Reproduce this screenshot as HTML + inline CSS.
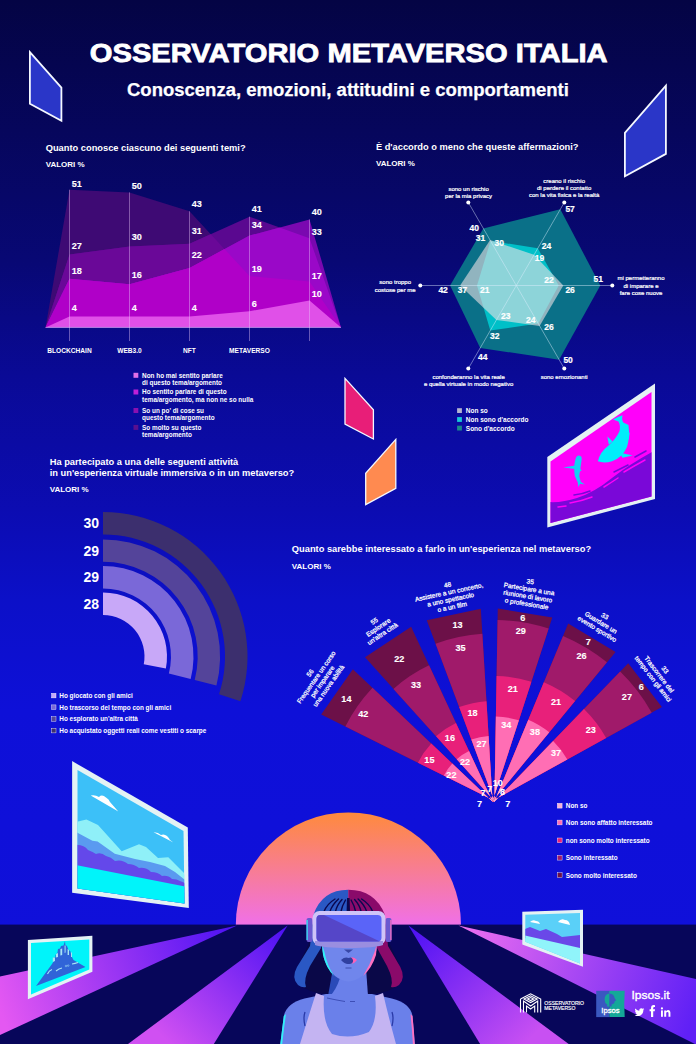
<!DOCTYPE html>
<html><head><meta charset="utf-8"><style>
html,body{margin:0;padding:0;background:#0a0a90;}
svg{display:block;font-family:'Liberation Sans',sans-serif;font-weight:bold;}
</style></head><body>
<svg width="696" height="1044" viewBox="0 0 696 1044">
<defs>
<linearGradient id="bg" x1="0" y1="0" x2="0" y2="1">
<stop offset="0" stop-color="#040444"/>
<stop offset="0.25" stop-color="#080874"/>
<stop offset="0.36" stop-color="#0a0a96"/>
<stop offset="0.49" stop-color="#0c0cb2"/>
<stop offset="0.575" stop-color="#0c10c8"/>
<stop offset="0.68" stop-color="#0e10d8"/>
<stop offset="0.9" stop-color="#1010da"/>
<stop offset="1" stop-color="#1010da"/>
</linearGradient>
<linearGradient id="sun" x1="0" y1="0" x2="0" y2="1">
<stop offset="0" stop-color="#ff8a3c"/>
<stop offset="1" stop-color="#f070e8"/>
</linearGradient>
</defs>
<rect x="0" y="0" width="696" height="1044" fill="url(#bg)"/>
<text x="89.80" y="62.00" font-size="26.4" fill="#fff" text-anchor="start" textLength="517.8" lengthAdjust="spacingAndGlyphs" stroke="#fff" stroke-width="0.8">OSSERVATORIO METAVERSO ITALIA</text>
<text x="127.00" y="96.00" font-size="18.3" fill="#fff" text-anchor="start" textLength="441.8" lengthAdjust="spacingAndGlyphs" stroke="#fff" stroke-width="0.25">Conoscenza, emozioni, attitudini e comportamenti</text>
<polygon points="29.9,52.2 61.4,87.6 61.4,120.8 29.9,103.8" fill="#2a36c8" stroke="#f4f8ff" stroke-width="1.8" stroke-linejoin="miter"/>
<polygon points="665.9,85.7 665.9,153.9 624.9,176.2 624.9,132.8" fill="#2a36c8" stroke="#f4f8ff" stroke-width="1.8" stroke-linejoin="miter"/>
<polygon points="345.0,378.4 373.4,409.8 373.4,439.0 345.0,424.0" fill="#e81e78" stroke="#f4f8ff" stroke-width="1.3" stroke-linejoin="miter"/>
<polygon points="395.8,439.4 395.8,488.4 365.7,504.6 365.7,473.2" fill="#ff8a50" stroke="#f4f8ff" stroke-width="1.3" stroke-linejoin="miter"/>
<text x="45.70" y="151.40" font-size="9.3" fill="#fff" text-anchor="start" >Quanto conosce ciascuno dei seguenti temi?</text>
<text x="45.70" y="166.60" font-size="8.0" fill="#fff" text-anchor="start" >VALORI %</text>
<defs><clipPath id="cS4"><polygon points="45.5,327.4 69.5,189.7 129.5,192.4 189.5,211.3 249.5,276.1 309.5,281.5 341.0,327.4"/></clipPath><clipPath id="cS3"><polygon points="45.5,327.4 69.5,254.5 129.5,246.4 189.5,243.7 249.5,216.7 309.5,238.3 341.0,327.4"/></clipPath></defs>
<polygon points="45.5,327.4 69.5,189.7 129.5,192.4 189.5,211.3 249.5,276.1 309.5,281.5 341.0,327.4" fill="#3e0a74"/>
<polygon points="45.5,327.4 69.5,254.5 129.5,246.4 189.5,243.7 249.5,216.7 309.5,238.3 341.0,327.4" fill="#5a0890"/>
<polygon points="45.5,327.4 69.5,254.5 129.5,246.4 189.5,243.7 249.5,216.7 309.5,238.3 341.0,327.4" fill="#6a0898" clip-path="url(#cS4)"/>
<polygon points="45.5,327.4 69.5,278.8 129.5,284.2 189.5,268.0 249.5,235.6 309.5,219.4 341.0,327.4" fill="#7a08b0"/>
<polygon points="45.5,327.4 69.5,278.8 129.5,284.2 189.5,268.0 249.5,235.6 309.5,219.4 341.0,327.4" fill="#9a08c8" clip-path="url(#cS3)"/>
<g clip-path="url(#cS4)"><polygon points="45.5,327.4 69.5,278.8 129.5,284.2 189.5,268.0 249.5,235.6 309.5,219.4 341.0,327.4" fill="#b000c8" clip-path="url(#cS3)"/></g>
<polygon points="45.5,327.4 69.5,316.6 129.5,316.6 189.5,316.6 249.5,311.2 309.5,300.4 341.0,327.4" fill="#e050e8"/>
<line x1="45.5" y1="327.4" x2="341" y2="327.4" stroke="#a898e8" stroke-width="0.8"/>
<line x1="69.5" y1="189.7" x2="69.5" y2="341" stroke="#e8c8f8" stroke-opacity="0.7" stroke-width="0.6"/>
<text x="71.70" y="186.60" font-size="9.1" fill="#fff" text-anchor="start" stroke="#fff" stroke-width="0.12">51</text>
<text x="71.70" y="249.40" font-size="9.1" fill="#fff" text-anchor="start" stroke="#fff" stroke-width="0.12">27</text>
<text x="71.70" y="274.00" font-size="9.1" fill="#fff" text-anchor="start" stroke="#fff" stroke-width="0.12">18</text>
<text x="71.70" y="310.90" font-size="9.1" fill="#fff" text-anchor="start" stroke="#fff" stroke-width="0.12">4</text>
<line x1="129.5" y1="192.4" x2="129.5" y2="341" stroke="#e8c8f8" stroke-opacity="0.7" stroke-width="0.6"/>
<text x="131.70" y="188.60" font-size="9.1" fill="#fff" text-anchor="start" stroke="#fff" stroke-width="0.12">50</text>
<text x="131.70" y="240.10" font-size="9.1" fill="#fff" text-anchor="start" stroke="#fff" stroke-width="0.12">30</text>
<text x="131.70" y="277.60" font-size="9.1" fill="#fff" text-anchor="start" stroke="#fff" stroke-width="0.12">16</text>
<text x="131.70" y="310.90" font-size="9.1" fill="#fff" text-anchor="start" stroke="#fff" stroke-width="0.12">4</text>
<line x1="189.5" y1="211.3" x2="189.5" y2="341" stroke="#e8c8f8" stroke-opacity="0.7" stroke-width="0.6"/>
<text x="191.70" y="207.20" font-size="9.1" fill="#fff" text-anchor="start" stroke="#fff" stroke-width="0.12">43</text>
<text x="191.70" y="233.60" font-size="9.1" fill="#fff" text-anchor="start" stroke="#fff" stroke-width="0.12">31</text>
<text x="191.70" y="257.90" font-size="9.1" fill="#fff" text-anchor="start" stroke="#fff" stroke-width="0.12">22</text>
<text x="191.70" y="311.40" font-size="9.1" fill="#fff" text-anchor="start" stroke="#fff" stroke-width="0.12">4</text>
<line x1="249.5" y1="216.7" x2="249.5" y2="341" stroke="#e8c8f8" stroke-opacity="0.7" stroke-width="0.6"/>
<text x="251.70" y="211.80" font-size="9.1" fill="#fff" text-anchor="start" stroke="#fff" stroke-width="0.12">41</text>
<text x="251.70" y="228.00" font-size="9.1" fill="#fff" text-anchor="start" stroke="#fff" stroke-width="0.12">34</text>
<text x="251.70" y="271.60" font-size="9.1" fill="#fff" text-anchor="start" stroke="#fff" stroke-width="0.12">19</text>
<text x="251.70" y="306.80" font-size="9.1" fill="#fff" text-anchor="start" stroke="#fff" stroke-width="0.12">6</text>
<line x1="309.5" y1="219.4" x2="309.5" y2="341" stroke="#e8c8f8" stroke-opacity="0.7" stroke-width="0.6"/>
<text x="311.70" y="214.90" font-size="9.1" fill="#fff" text-anchor="start" stroke="#fff" stroke-width="0.12">40</text>
<text x="311.70" y="234.90" font-size="9.1" fill="#fff" text-anchor="start" stroke="#fff" stroke-width="0.12">33</text>
<text x="311.70" y="278.70" font-size="9.1" fill="#fff" text-anchor="start" stroke="#fff" stroke-width="0.12">17</text>
<text x="311.70" y="297.40" font-size="9.1" fill="#fff" text-anchor="start" stroke="#fff" stroke-width="0.12">10</text>
<text x="69.50" y="353.00" font-size="6.6" fill="#fff" text-anchor="middle" >BLOCKCHAIN</text>
<text x="129.50" y="353.00" font-size="6.6" fill="#fff" text-anchor="middle" >WEB3.0</text>
<text x="189.50" y="353.00" font-size="6.6" fill="#fff" text-anchor="middle" >NFT</text>
<text x="249.50" y="353.00" font-size="6.6" fill="#fff" text-anchor="middle" >METAVERSO</text>
<rect x="133.5" y="372.8" width="4.8" height="5" fill="#e070e8"/>
<text x="142.10" y="377.60" font-size="6.4" fill="#fff" text-anchor="start" >Non ho mai sentito parlare</text>
<text x="142.10" y="384.80" font-size="6.4" fill="#fff" text-anchor="start" >di questo tema/argomento</text>
<rect x="133.5" y="389.5" width="4.8" height="5" fill="#c020d8"/>
<text x="142.10" y="394.30" font-size="6.4" fill="#fff" text-anchor="start" >Ho sentito parlare di questo</text>
<text x="142.10" y="401.50" font-size="6.4" fill="#fff" text-anchor="start" >tema/argomento, ma non ne so nulla</text>
<rect x="133.5" y="408.0" width="4.8" height="5" fill="#8a10b0"/>
<text x="142.10" y="412.80" font-size="6.4" fill="#fff" text-anchor="start" >So un po' di cose su</text>
<text x="142.10" y="420.00" font-size="6.4" fill="#fff" text-anchor="start" >questo tema/argomento</text>
<rect x="133.5" y="424.9" width="4.8" height="5" fill="#5a1090"/>
<text x="142.10" y="429.70" font-size="6.4" fill="#fff" text-anchor="start" >So molto su questo</text>
<text x="142.10" y="436.90" font-size="6.4" fill="#fff" text-anchor="start" >tema/argomento</text>
<text x="375.90" y="150.20" font-size="9.3" fill="#fff" text-anchor="start" >È d'accordo o meno che queste affermazioni?</text>
<text x="375.90" y="166.40" font-size="8.0" fill="#fff" text-anchor="start" >VALORI %</text>
<polygon points="483.3,228.4 560.3,209.2 600.3,285.5 559.1,359.7 480.2,348.0 450.1,285.5" fill="#0a7088"/>
<polygon points="490.5,240.9 537.8,248.2 558.7,285.5 538.3,323.6 490.3,330.5 477.0,285.5" fill="#00c0c8"/>
<polygon points="490.1,240.1 534.0,254.8 563.3,285.5 539.6,325.9 496.4,319.9 460.1,285.5" fill="rgb(235,225,228)" fill-opacity="0.6"/>
<line x1="516.3" y1="285.5" x2="468.3" y2="202.4" stroke="#e0f0ff" stroke-opacity="0.75" stroke-width="0.6"/>
<circle cx="468.3" cy="202.4" r="2" fill="#fff"/>
<line x1="516.3" y1="285.5" x2="564.3" y2="202.4" stroke="#e0f0ff" stroke-opacity="0.75" stroke-width="0.6"/>
<circle cx="564.3" cy="202.4" r="2" fill="#fff"/>
<line x1="516.3" y1="285.5" x2="612.3" y2="285.5" stroke="#e0f0ff" stroke-opacity="0.75" stroke-width="0.6"/>
<circle cx="612.3" cy="285.5" r="2" fill="#fff"/>
<line x1="516.3" y1="285.5" x2="564.3" y2="368.6" stroke="#e0f0ff" stroke-opacity="0.75" stroke-width="0.6"/>
<circle cx="564.3" cy="368.6" r="2" fill="#fff"/>
<line x1="516.3" y1="285.5" x2="468.3" y2="368.6" stroke="#e0f0ff" stroke-opacity="0.75" stroke-width="0.6"/>
<circle cx="468.3" cy="368.6" r="2" fill="#fff"/>
<line x1="516.3" y1="285.5" x2="420.3" y2="285.5" stroke="#e0f0ff" stroke-opacity="0.75" stroke-width="0.6"/>
<circle cx="420.3" cy="285.5" r="2" fill="#fff"/>
<text x="469.50" y="231.20" font-size="8.5" fill="#fff" text-anchor="start" stroke="#fff" stroke-width="0.2">40</text>
<text x="475.80" y="240.90" font-size="8.5" fill="#fff" text-anchor="start" stroke="#fff" stroke-width="0.2">31</text>
<text x="494.50" y="246.10" font-size="8.5" fill="#fff" text-anchor="start" stroke="#fff" stroke-width="0.2">30</text>
<text x="565.40" y="211.60" font-size="8.5" fill="#fff" text-anchor="start" stroke="#fff" stroke-width="0.2">57</text>
<text x="541.80" y="248.90" font-size="8.5" fill="#fff" text-anchor="start" stroke="#fff" stroke-width="0.2">24</text>
<text x="534.70" y="261.10" font-size="8.5" fill="#fff" text-anchor="start" stroke="#fff" stroke-width="0.2">19</text>
<text x="593.60" y="282.00" font-size="8.5" fill="#fff" text-anchor="start" stroke="#fff" stroke-width="0.2">51</text>
<text x="544.20" y="282.90" font-size="8.5" fill="#fff" text-anchor="start" stroke="#fff" stroke-width="0.2">22</text>
<text x="565.40" y="292.70" font-size="8.5" fill="#fff" text-anchor="start" stroke="#fff" stroke-width="0.2">26</text>
<text x="544.20" y="330.30" font-size="8.5" fill="#fff" text-anchor="start" stroke="#fff" stroke-width="0.2">26</text>
<text x="526.10" y="322.90" font-size="8.5" fill="#fff" text-anchor="start" stroke="#fff" stroke-width="0.2">24</text>
<text x="563.40" y="362.50" font-size="8.5" fill="#fff" text-anchor="start" stroke="#fff" stroke-width="0.2">50</text>
<text x="501.10" y="319.40" font-size="8.5" fill="#fff" text-anchor="start" stroke="#fff" stroke-width="0.2">23</text>
<text x="490.10" y="338.90" font-size="8.5" fill="#fff" text-anchor="start" stroke="#fff" stroke-width="0.2">32</text>
<text x="478.10" y="360.20" font-size="8.5" fill="#fff" text-anchor="start" stroke="#fff" stroke-width="0.2">44</text>
<text x="438.40" y="292.70" font-size="8.5" fill="#fff" text-anchor="start" stroke="#fff" stroke-width="0.2">42</text>
<text x="457.70" y="292.70" font-size="8.5" fill="#fff" text-anchor="start" stroke="#fff" stroke-width="0.2">37</text>
<text x="480.10" y="292.70" font-size="8.5" fill="#fff" text-anchor="start" stroke="#fff" stroke-width="0.2">21</text>
<text x="468.6" y="191.0" font-size="6.0" fill="#fff" text-anchor="middle" font-weight="normal" stroke="#fff" stroke-width="0.22">sono un rischio</text>
<text x="468.6" y="198.3" font-size="6.0" fill="#fff" text-anchor="middle" font-weight="normal" stroke="#fff" stroke-width="0.22">per la mia privacy</text>
<text x="564.2" y="182.6" font-size="6.0" fill="#fff" text-anchor="middle" font-weight="normal" stroke="#fff" stroke-width="0.22">creano il rischio</text>
<text x="564.2" y="190.1" font-size="6.0" fill="#fff" text-anchor="middle" font-weight="normal" stroke="#fff" stroke-width="0.22">di perdere il contatto</text>
<text x="564.2" y="197.3" font-size="6.0" fill="#fff" text-anchor="middle" font-weight="normal" stroke="#fff" stroke-width="0.22">con la vita fisica e la realtà</text>
<text x="641.0" y="280.4" font-size="6.0" fill="#fff" text-anchor="middle" font-weight="normal" stroke="#fff" stroke-width="0.22">mi permetteranno</text>
<text x="641.0" y="287.7" font-size="6.0" fill="#fff" text-anchor="middle" font-weight="normal" stroke="#fff" stroke-width="0.22">di imparare e</text>
<text x="641.0" y="295.0" font-size="6.0" fill="#fff" text-anchor="middle" font-weight="normal" stroke="#fff" stroke-width="0.22">fare cose nuove</text>
<text x="395.2" y="284.2" font-size="6.0" fill="#fff" text-anchor="middle" font-weight="normal" stroke="#fff" stroke-width="0.22">sono troppo</text>
<text x="395.2" y="291.5" font-size="6.0" fill="#fff" text-anchor="middle" font-weight="normal" stroke="#fff" stroke-width="0.22">costose per me</text>
<text x="468.6" y="378.5" font-size="6.0" fill="#fff" text-anchor="middle" font-weight="normal" stroke="#fff" stroke-width="0.22">confonderanno la vita reale</text>
<text x="468.6" y="385.8" font-size="6.0" fill="#fff" text-anchor="middle" font-weight="normal" stroke="#fff" stroke-width="0.22">e quella virtuale in modo negativo</text>
<text x="564.2" y="378.5" font-size="6.0" fill="#fff" text-anchor="middle" font-weight="normal" stroke="#fff" stroke-width="0.22">sono emozionanti</text>
<rect x="457.1" y="408.2" width="4.8" height="4.8" fill="#b4b4d0"/>
<text x="465.80" y="413.20" font-size="6.5" fill="#fff" text-anchor="start" >Non so</text>
<rect x="457.1" y="417.1" width="4.8" height="4.8" fill="#18c8d8"/>
<text x="465.80" y="422.10" font-size="6.5" fill="#fff" text-anchor="start" >Non sono d'accordo</text>
<rect x="457.1" y="425.7" width="4.8" height="4.8" fill="#1a8a8a"/>
<text x="465.80" y="430.70" font-size="6.5" fill="#fff" text-anchor="start" >Sono d'accordo</text>
<text x="49.70" y="464.70" font-size="9.3" fill="#fff" text-anchor="start" >Ha partecipato a una delle seguenti attività</text>
<text x="49.70" y="476.00" font-size="9.3" fill="#fff" text-anchor="start" >in un'esperienza virtuale immersiva o in un metaverso?</text>
<text x="49.70" y="491.90" font-size="8.0" fill="#fff" text-anchor="start" >VALORI %</text>
<path d="M103,512.00 A144.5,144.5 0 0 1 240.43,701.15 L219.03,694.20 A122,122 0 0 0 103,534.50 Z" fill="#3c2f6e"/>
<path d="M103,539.40 A117.1,117.1 0 0 1 216.42,685.62 L194.72,680.05 A94.7,94.7 0 0 0 103,561.80 Z" fill="#54449a"/>
<path d="M103,566.00 A90.5,90.5 0 0 1 190.66,679.01 L168.86,673.41 A68,68 0 0 0 103,588.50 Z" fill="#7a68d8"/>
<path d="M103,592.50 A64,64 0 0 1 165.87,668.49 L143.76,664.28 A41.5,41.5 0 0 0 103,615.00 Z" fill="#c8a8f8"/>
<text x="99.00" y="528.25" font-size="14" fill="#fff" text-anchor="end" >30</text>
<text x="99.00" y="555.60" font-size="14" fill="#fff" text-anchor="end" >29</text>
<text x="99.00" y="582.25" font-size="14" fill="#fff" text-anchor="end" >29</text>
<text x="99.00" y="608.75" font-size="14" fill="#fff" text-anchor="end" >28</text>
<rect x="51.5" y="693.3" width="4.5" height="4.6" fill="#c8a8f8" stroke="#fff" stroke-width="0.4"/>
<text x="59.30" y="698.00" font-size="6.4" fill="#fff" text-anchor="start" >Ho giocato con gli amici</text>
<rect x="51.5" y="704.9" width="4.5" height="4.6" fill="#7a68d8" stroke="#fff" stroke-width="0.4"/>
<text x="59.30" y="709.60" font-size="6.4" fill="#fff" text-anchor="start" >Ho trascorso del tempo con gli amici</text>
<rect x="51.5" y="716.7" width="4.5" height="4.6" fill="#54449a" stroke="#fff" stroke-width="0.4"/>
<text x="59.30" y="721.40" font-size="6.4" fill="#fff" text-anchor="start" >Ho esplorato un'altra città</text>
<rect x="51.5" y="728.3" width="4.5" height="4.6" fill="#3c2f6e" stroke="#fff" stroke-width="0.4"/>
<text x="59.30" y="733.00" font-size="6.4" fill="#fff" text-anchor="start" >Ho acquistato oggetti reali come vestiti o scarpe</text>
<text x="291.80" y="552.20" font-size="9.3" fill="#fff" text-anchor="start" >Quanto sarebbe interessato a farlo in un'esperienza nel metaverso?</text>
<text x="291.80" y="569.00" font-size="8.0" fill="#fff" text-anchor="start" >VALORI %</text>
<path d="M493.90,800.59 L321.18,714.48 L352.88,669.20 L492.88,802.05 Z" fill="#6c1048"/>
<path d="M493.90,800.59 L345.36,726.53 A165.98,165.98 0 0 1 372.48,687.80 L492.88,802.05 Z" fill="#a01a6a"/>
<path d="M493.90,800.59 L417.90,762.70 A84.92,84.92 0 0 1 431.28,743.60 L492.88,802.05 Z" fill="#e8207a"/>
<path d="M493.90,800.59 L443.81,775.62 A55.97,55.97 0 0 1 452.28,763.53 L492.88,802.05 Z" fill="#ff6eb4"/>
<path d="M493.90,800.59 L481.81,794.57 A13.51,13.51 0 0 1 483.08,792.75 L492.88,802.05 Z" fill="#f8b0d8"/>
<g transform="translate(319.43,679.52) rotate(-55)">
<text x="0" y="-9.15" font-size="6.5" font-weight="normal" fill="#fff" stroke="#fff" stroke-width="0.25" text-anchor="middle">56</text>
<text x="0" y="-1.65" font-size="6.5" font-weight="normal" fill="#fff" stroke="#fff" stroke-width="0.25" text-anchor="middle">Frequentare un corso</text>
<text x="0" y="5.85" font-size="6.5" font-weight="normal" fill="#fff" stroke="#fff" stroke-width="0.25" text-anchor="middle">per imparare</text>
<text x="0" y="13.35" font-size="6.5" font-weight="normal" fill="#fff" stroke="#fff" stroke-width="0.25" text-anchor="middle">una nuova abilità</text>
</g>
<path d="M494.17,800.80 L365.03,657.37 L411.12,626.86 L492.68,801.78 Z" fill="#6c1048"/>
<path d="M494.17,800.80 L393.44,688.92 A150.54,150.54 0 0 1 429.06,665.34 L492.68,801.78 Z" fill="#a01a6a"/>
<path d="M494.17,800.80 L436.05,736.26 A86.85,86.85 0 0 1 455.98,723.07 L492.68,801.78 Z" fill="#e8207a"/>
<path d="M494.17,800.80 L456.72,759.20 A55.97,55.97 0 0 1 469.03,751.05 L492.68,801.78 Z" fill="#ff6eb4"/>
<path d="M494.17,800.80 L485.13,790.76 A13.51,13.51 0 0 1 486.97,789.54 L492.68,801.78 Z" fill="#f8b0d8"/>
<g transform="translate(378.42,627.53) rotate(-33.5)">
<text x="0" y="-5.40" font-size="6.5" font-weight="normal" fill="#fff" stroke="#fff" stroke-width="0.25" text-anchor="middle">55</text>
<text x="0" y="2.10" font-size="6.5" font-weight="normal" fill="#fff" stroke="#fff" stroke-width="0.25" text-anchor="middle">Esplorare</text>
<text x="0" y="9.60" font-size="6.5" font-weight="normal" fill="#fff" stroke="#fff" stroke-width="0.25" text-anchor="middle">un'altra città</text>
</g>
<path d="M494.34,801.08 L426.75,620.31 L480.82,608.81 L492.60,801.45 Z" fill="#6c1048"/>
<path d="M494.34,801.08 L435.54,643.81 A167.91,167.91 0 0 1 482.35,633.86 L492.60,801.45 Z" fill="#a01a6a"/>
<path d="M494.34,801.08 L459.20,707.08 A100.36,100.36 0 0 1 486.47,701.28 L492.60,801.45 Z" fill="#e8207a"/>
<path d="M494.34,801.08 L471.36,739.62 A65.62,65.62 0 0 1 488.60,735.96 L492.60,801.45 Z" fill="#ff6eb4"/>
<path d="M494.34,801.08 L489.61,788.43 A13.51,13.51 0 0 1 491.78,787.97 L492.60,801.45 Z" fill="#f8b0d8"/>
<g transform="translate(449.84,595.99) rotate(-12)">
<text x="0" y="-9.15" font-size="6.5" font-weight="normal" fill="#fff" stroke="#fff" stroke-width="0.25" text-anchor="middle">48</text>
<text x="0" y="-1.65" font-size="6.5" font-weight="normal" fill="#fff" stroke="#fff" stroke-width="0.25" text-anchor="middle">Assistere a un concerto,</text>
<text x="0" y="5.85" font-size="6.5" font-weight="normal" fill="#fff" stroke="#fff" stroke-width="0.25" text-anchor="middle">a uno spettacolo</text>
<text x="0" y="13.35" font-size="6.5" font-weight="normal" fill="#fff" stroke="#fff" stroke-width="0.25" text-anchor="middle">o a un film</text>
</g>
<path d="M494.40,801.42 L497.77,608.45 L552.28,617.57 L492.64,801.12 Z" fill="#6c1048"/>
<path d="M494.40,801.42 L497.57,620.02 A181.42,181.42 0 0 1 548.71,628.58 L492.64,801.12 Z" fill="#a01a6a"/>
<path d="M494.40,801.42 L496.59,675.98 A125.45,125.45 0 0 1 531.41,681.81 L492.64,801.12 Z" fill="#e8207a"/>
<path d="M494.40,801.42 L495.88,716.51 A84.92,84.92 0 0 1 518.89,720.36 L492.64,801.12 Z" fill="#ff6eb4"/>
<path d="M494.40,801.42 L494.74,782.12 A19.30,19.30 0 0 1 498.61,782.77 L492.64,801.12 Z" fill="#f8b0d8"/>
<g transform="translate(528.41,592.80) rotate(9.5)">
<text x="0" y="-9.15" font-size="6.5" font-weight="normal" fill="#fff" stroke="#fff" stroke-width="0.25" text-anchor="middle">35</text>
<text x="0" y="-1.65" font-size="6.5" font-weight="normal" fill="#fff" stroke="#fff" stroke-width="0.25" text-anchor="middle">Partecipare a una</text>
<text x="0" y="5.85" font-size="6.5" font-weight="normal" fill="#fff" stroke="#fff" stroke-width="0.25" text-anchor="middle">riunione di lavoro</text>
<text x="0" y="13.35" font-size="6.5" font-weight="normal" fill="#fff" stroke="#fff" stroke-width="0.25" text-anchor="middle">o professionale</text>
</g>
<path d="M494.33,801.74 L568.19,623.44 L615.57,651.90 L492.81,800.83 Z" fill="#6c1048"/>
<path d="M494.33,801.74 L563.02,635.92 A179.49,179.49 0 0 1 606.98,662.33 L492.81,800.83 Z" fill="#a01a6a"/>
<path d="M494.33,801.74 L543.82,682.28 A129.31,129.31 0 0 1 575.06,701.05 L492.81,800.83 Z" fill="#e8207a"/>
<path d="M494.33,801.74 L528.31,719.72 A88.78,88.78 0 0 1 549.28,732.32 L492.81,800.83 Z" fill="#ff6eb4"/>
<path d="M494.33,801.74 L500.24,787.48 A15.44,15.44 0 0 1 502.63,788.91 L492.81,800.83 Z" fill="#f8b0d8"/>
<g transform="translate(600.89,622.68) rotate(31)">
<text x="0" y="-5.40" font-size="6.5" font-weight="normal" fill="#fff" stroke="#fff" stroke-width="0.25" text-anchor="middle">33</text>
<text x="0" y="2.10" font-size="6.5" font-weight="normal" fill="#fff" stroke="#fff" stroke-width="0.25" text-anchor="middle">Guardare un</text>
<text x="0" y="9.60" font-size="6.5" font-weight="normal" fill="#fff" stroke="#fff" stroke-width="0.25" text-anchor="middle">evento sportivo</text>
</g>
<path d="M494.15,802.03 L628.22,663.19 L661.87,707.04 L493.06,800.61 Z" fill="#6c1048"/>
<path d="M494.15,802.03 L620.17,671.52 A181.42,181.42 0 0 1 651.74,712.66 L493.06,800.61 Z" fill="#a01a6a"/>
<path d="M494.15,802.03 L583.97,709.01 A129.31,129.31 0 0 1 606.16,737.92 L493.06,800.61 Z" fill="#e8207a"/>
<path d="M494.15,802.03 L553.14,740.94 A84.92,84.92 0 0 1 567.34,759.44 L493.06,800.61 Z" fill="#ff6eb4"/>
<path d="M494.15,802.03 L503.53,792.31 A13.51,13.51 0 0 1 504.88,794.06 L493.06,800.61 Z" fill="#f8b0d8"/>
<g transform="translate(658.91,674.47) rotate(52.5)">
<text x="0" y="-5.40" font-size="6.5" font-weight="normal" fill="#fff" stroke="#fff" stroke-width="0.25" text-anchor="middle">33</text>
<text x="0" y="2.10" font-size="6.5" font-weight="normal" fill="#fff" stroke="#fff" stroke-width="0.25" text-anchor="middle">Trascorrere del</text>
<text x="0" y="9.60" font-size="6.5" font-weight="normal" fill="#fff" stroke="#fff" stroke-width="0.25" text-anchor="middle">tempo con gli amici</text>
</g>
<text x="346.40" y="701.50" font-size="9.1" fill="#fff" text-anchor="middle" stroke="#fff" stroke-width="0.12">14</text>
<text x="363.30" y="717.20" font-size="9.1" fill="#fff" text-anchor="middle" stroke="#fff" stroke-width="0.12">42</text>
<text x="429.40" y="762.50" font-size="9.1" fill="#fff" text-anchor="middle" stroke="#fff" stroke-width="0.12">15</text>
<text x="451.40" y="778.10" font-size="9.1" fill="#fff" text-anchor="middle" stroke="#fff" stroke-width="0.12">22</text>
<text x="479.50" y="807.10" font-size="9.1" fill="#fff" text-anchor="middle" stroke="#fff" stroke-width="0.12">7</text>
<text x="399.20" y="662.30" font-size="9.1" fill="#fff" text-anchor="middle" stroke="#fff" stroke-width="0.12">22</text>
<text x="416.10" y="687.60" font-size="9.1" fill="#fff" text-anchor="middle" stroke="#fff" stroke-width="0.12">33</text>
<text x="449.90" y="741.30" font-size="9.1" fill="#fff" text-anchor="middle" stroke="#fff" stroke-width="0.12">16</text>
<text x="465.00" y="764.90" font-size="9.1" fill="#fff" text-anchor="middle" stroke="#fff" stroke-width="0.12">22</text>
<text x="483.10" y="795.60" font-size="9.1" fill="#fff" text-anchor="middle" stroke="#fff" stroke-width="0.12">7</text>
<text x="457.50" y="628.20" font-size="9.1" fill="#fff" text-anchor="middle" stroke="#fff" stroke-width="0.12">13</text>
<text x="460.50" y="650.80" font-size="9.1" fill="#fff" text-anchor="middle" stroke="#fff" stroke-width="0.12">35</text>
<text x="472.60" y="715.70" font-size="9.1" fill="#fff" text-anchor="middle" stroke="#fff" stroke-width="0.12">18</text>
<text x="481.60" y="747.40" font-size="9.1" fill="#fff" text-anchor="middle" stroke="#fff" stroke-width="0.12">27</text>
<text x="489.80" y="792.00" font-size="9.1" fill="#fff" text-anchor="middle" stroke="#fff" stroke-width="0.12">7</text>
<text x="522.80" y="620.60" font-size="9.1" fill="#fff" text-anchor="middle" stroke="#fff" stroke-width="0.12">6</text>
<text x="520.70" y="634.20" font-size="9.1" fill="#fff" text-anchor="middle" stroke="#fff" stroke-width="0.12">29</text>
<text x="512.80" y="692.40" font-size="9.1" fill="#fff" text-anchor="middle" stroke="#fff" stroke-width="0.12">21</text>
<text x="506.20" y="727.80" font-size="9.1" fill="#fff" text-anchor="middle" stroke="#fff" stroke-width="0.12">34</text>
<text x="497.80" y="786.00" font-size="9.1" fill="#fff" text-anchor="middle" stroke="#fff" stroke-width="0.12">10</text>
<text x="588.30" y="645.40" font-size="9.1" fill="#fff" text-anchor="middle" stroke="#fff" stroke-width="0.12">7</text>
<text x="581.60" y="659.30" font-size="9.1" fill="#fff" text-anchor="middle" stroke="#fff" stroke-width="0.12">26</text>
<text x="556.00" y="704.50" font-size="9.1" fill="#fff" text-anchor="middle" stroke="#fff" stroke-width="0.12">21</text>
<text x="534.90" y="734.70" font-size="9.1" fill="#fff" text-anchor="middle" stroke="#fff" stroke-width="0.12">38</text>
<text x="502.60" y="795.00" font-size="9.1" fill="#fff" text-anchor="middle" stroke="#fff" stroke-width="0.12">8</text>
<text x="641.40" y="690.00" font-size="9.1" fill="#fff" text-anchor="middle" stroke="#fff" stroke-width="0.12">6</text>
<text x="626.90" y="699.70" font-size="9.1" fill="#fff" text-anchor="middle" stroke="#fff" stroke-width="0.12">27</text>
<text x="590.70" y="732.90" font-size="9.1" fill="#fff" text-anchor="middle" stroke="#fff" stroke-width="0.12">23</text>
<text x="556.00" y="756.40" font-size="9.1" fill="#fff" text-anchor="middle" stroke="#fff" stroke-width="0.12">37</text>
<text x="507.70" y="807.10" font-size="9.1" fill="#fff" text-anchor="middle" stroke="#fff" stroke-width="0.12">7</text>
<rect x="557.3" y="803.3" width="4.8" height="4.8" fill="#f8b0d8" stroke="#fff" stroke-width="0.4"/>
<text x="565.80" y="808.10" font-size="6.4" fill="#fff" text-anchor="start" >Non so</text>
<rect x="557.3" y="820.1" width="4.8" height="4.8" fill="#ff6eb4" stroke="#fff" stroke-width="0.4"/>
<text x="565.80" y="824.90" font-size="6.4" fill="#fff" text-anchor="start" >Non sono affatto interessato</text>
<rect x="557.3" y="838.0" width="4.8" height="4.8" fill="#e8207a" stroke="#fff" stroke-width="0.4"/>
<text x="565.80" y="842.80" font-size="6.4" fill="#fff" text-anchor="start" >non sono molto interessato</text>
<rect x="557.3" y="855.3" width="4.8" height="4.8" fill="#a01a6a" stroke="#fff" stroke-width="0.4"/>
<text x="565.80" y="860.10" font-size="6.4" fill="#fff" text-anchor="start" >Sono interessato</text>
<rect x="557.3" y="872.8" width="4.8" height="4.8" fill="#6c1048" stroke="#fff" stroke-width="0.4"/>
<text x="565.80" y="877.60" font-size="6.4" fill="#fff" text-anchor="start" >Sono molto interessato</text>
<defs>
<linearGradient id="rayA" gradientUnits="userSpaceOnUse" x1="0" y1="1010" x2="237" y2="926">
<stop offset="0" stop-color="#e458f2"/><stop offset="1" stop-color="#4a10f4"/></linearGradient>
<linearGradient id="rayB" gradientUnits="userSpaceOnUse" x1="170" y1="1044" x2="287" y2="926">
<stop offset="0" stop-color="#d050f2"/><stop offset="1" stop-color="#4a10f4"/></linearGradient>
<linearGradient id="rayC" gradientUnits="userSpaceOnUse" x1="408" y1="926" x2="525" y2="1044">
<stop offset="0" stop-color="#4a10f4"/><stop offset="1" stop-color="#c850f2"/></linearGradient>
<linearGradient id="rayD" gradientUnits="userSpaceOnUse" x1="458" y1="926" x2="696" y2="1010">
<stop offset="0" stop-color="#f070f0"/><stop offset="1" stop-color="#6020f6"/></linearGradient>
<linearGradient id="sky1" x1="0" y1="0" x2="0" y2="1">
<stop offset="0" stop-color="#38c0f8"/><stop offset="1" stop-color="#38c0f8"/></linearGradient>
<clipPath id="clipF1"><polygon points="77.5,770 183.5,831 184.5,903.5 77.5,888.5"/></clipPath>
<clipPath id="clipF2"><polygon points="550.5,461.5 651.5,392 651.5,496.5 550.5,523"/></clipPath>
<clipPath id="clipF3"><polygon points="31,943 89.3,939.5 89.3,969.5 31,994.5"/></clipPath>
<clipPath id="clipF4"><polygon points="525.3,914.8 580,913 580,963.5 525.3,941.8"/></clipPath>
</defs>
<path d="M235.8,925 A112.6,112.6 0 0 1 461,925 Z" fill="url(#sun)"/>
<rect x="0" y="924.6" width="696" height="120" fill="#07065a"/>
<polygon points="237.1,925.5 0,976.5 0,1035" fill="url(#rayA)"/>
<polygon points="287.6,925.5 128,1044 213.8,1044" fill="url(#rayB)"/>
<polygon points="408.5,925.5 480.1,1044 568.7,1044" fill="url(#rayC)"/>
<polygon points="458.4,925.5 696,979 696,1044.5" fill="url(#rayD)"/>
<polygon points="72.1,761.1 187.8,827.5 188.8,908 72.1,892.8" fill="#e4f2f4"/>
<g clip-path="url(#clipF1)">
<rect x="70" y="760" width="120" height="150" fill="#3cc0f8"/>
<path d="M76,822 L86.4,819.6 L98,825 L121.7,851.2 L139,844.3 L146,847 L158,858 L168.3,857.2 L185,874 L185,905 L76,905 Z" fill="#8ff0f8"/>
<path d="M76,832 L92.4,840.8 L97.6,841.6 L114.8,853.8 L135,859 L150,862 L165,866 L175,872 L185,880 L185,905 L76,905 Z" fill="#5a9af0"/>
<path d="M76,844.8 Q84,845 88,850 Q93,852 96,854 Q101,852 106,856 Q111,857 115,861 Q122,859 128,864 Q134,864 139,868 Q146,867 151,872 Q158,872 162,876 Q168,875 172,879 Q177,879 180,881 L185,883 L185,905 L76,905 Z" fill="#6448ea"/>
<path d="M76,865 L185,886.5 L185,910 L76,910 Z" fill="#00f4fa"/>
<path d="M90.7,795.5 Q95,794.5 99,797 Q102,794 106,797.5 Q109,799 110,802 L118.3,811.5 Z" fill="#fff"/>
<path d="M153.6,832.2 Q158,832 161,835 Q164,833.5 167,836 Q169,838 170,840 L173.4,842.6 Z" fill="#fff"/>
</g>
<polygon points="547.3,457 655,383.4 655,499 547.3,527.5" fill="#e4f2f4"/>
<g clip-path="url(#clipF2)">
<rect x="545" y="380" width="112" height="150" fill="#ff00fa"/>
<path d="M548,502 Q562,503 577,498 Q595,492 612,478 Q630,464 652,452 L652,530 L548,530 Z" fill="#7a08d8"/>
<path d="M570,503 Q582,501 592,497 M604,487 Q612,482 618,478 M624,472 Q634,466 645,460 M558,507 L566,506" stroke="#ff00fa" stroke-width="1.5" fill="none" stroke-linecap="round"/>
<path d="M574,495 Q583,494 590,491 M614,472 Q622,468 628,465 M635,457 L646,451" stroke="#7a08d8" stroke-width="1.6" fill="none" stroke-linecap="round"/>
<path d="M597.9,461.3 Q600,452 608,446 Q616,439 619.6,431 Q620.6,425 618.4,421.6 L613,419.6 Q618,416.6 622.6,415.2 Q621.4,419.5 623.3,422.5 L628.5,425 Q630,437 627,447 Q622,458 612,461.2 Q604,463.5 597.9,461.3 Z" fill="#00eefa"/>
<path d="M608.8,444.5 L607.4,436.6 L612.6,441.4 Z M619.5,452.5 L632.6,455.4 L622.5,457.8 Z M626.4,436 L629.8,432.2 L628.6,440 Z" fill="#00eefa"/>
<path d="M578.4,455.6 Q583,455.4 581.3,462 Q580.2,470 579.2,476 L580.9,482 L585,484.4 L580,483.8 L578.4,487.2 L577.8,482.6 L574.8,476 Q573.5,467 575,461 Q576,456 578.4,455.6 Z" fill="#10d0f4"/>
<path d="M575.2,465.5 L563.4,467.5 L574.8,469 Z M579.6,468 L581.6,470.6 L579,472 Z" fill="#10d0f4"/>
</g>
<polygon points="27.9,940 92.4,935.8 92.4,971.7 27.9,999.2" fill="#e4f2f4"/>
<g clip-path="url(#clipF3)">
<rect x="27" y="935" width="66" height="66" fill="#00f4fa"/>
<path d="M36,986 L52,964 L53.6,961.5 L53.6,957.5 L55.4,957.5 L55.4,955 L57.4,953 L58,949 L60,948.5 L61,946 L63.5,945.5 L65,941 L65.4,945 L67,946 L68.5,950 L70.3,951 L71.5,956 L73.5,960 L85.5,967 Z" fill="#3064d8"/>
<path d="M52.8,962 L52.8,957.5 L55,957.5 L55,961 Z M56,957.5 L56,954 L58,953 L58,957 Z M60.4,955.5 L60.4,949 L62.2,948.5 L62.2,955 Z M64.6,953 L64.6,945.6 L65.6,945.6 L65.6,952.5 Z M67.6,955 L67.6,949 L69,950 L69,955 Z M71,957 L71,952 L72,953 L72,957 Z" fill="#a8e4f4"/>
<path d="M47.5,974 Q49,970.5 52,969.5 M56,971 Q59,968.5 62,968 M72,964 Q75,963.5 78,962.5" stroke="#a8e4f4" stroke-width="1.1" fill="none"/>
<circle cx="66" cy="966" r="0.8" fill="none" stroke="#a8e4f4" stroke-width="0.5"/><circle cx="68.2" cy="965.6" r="0.8" fill="none" stroke="#a8e4f4" stroke-width="0.5"/>
</g>
<polygon points="522.3,911.8 583,909.8 583,966.8 522.3,944.5" fill="#e4f2f4"/>
<g clip-path="url(#clipF4)">
<rect x="520" y="905" width="65" height="65" fill="#5ad0f8"/>
<path d="M525,929 L530,927 L540,931 L546,929 L557,934 L562,937 L580,935 L580,950 L525,938 Z" fill="#6a48e8"/>
<path d="M525,935.5 L580,948 L580,965 L525,945 Z" fill="#90f4fa"/>
<path d="M530,922 Q533,919 536,921 Q539,921 540,924 Z M558,922 Q561,918 565,920 Q569,920 570,925 Z" fill="#fff"/>
</g>
<path d="M314,932 L300,962 Q294,978 304,988 Q315,994 330,994 L368,994 Q383,994 394,988 Q404,978 398,962 L384,932 Z" fill="#0a0848"/>
<path d="M348.3,889.8 Q322,890 313.6,914.5 L310,946 L297,967 Q291,978 298,985 Q302,988 306,987 Q303,980 310,966 L321,948 L322,912 L348.3,912 Z" fill="#2a58c4"/>
<path d="M348.3,889.8 Q375,890 384.8,914.5 L388,946 L400.3,967 Q406,978 399,985 Q395,988 391,987 Q394,980 387,966 L377,948 L376,912 L348.3,912 Z" fill="#8a0a6a"/>
<g stroke="#0a0850" stroke-width="1.4" fill="none" stroke-linecap="round"><path d="M335,899 Q327,904 324,911.5"/><path d="M338.5,899 Q332,905 330,911.5"/><path d="M342,899.5 Q337,905 335.5,911.5"/><path d="M345.5,900 Q342,906 341,911.5"/><path d="M361.6,899 Q369.6,904 372.6,911.5"/><path d="M358.1,899 Q364.6,905 366.6,911.5"/><path d="M354.6,899.5 Q359.6,905 361.1,911.5"/><path d="M351.1,900 Q354.6,906 355.6,911.5"/></g>
<path d="M347,898 L349.6,898 L350,911.5 L346.6,911.5 Z" fill="#0a0850"/>
<path d="M333,968 L366,968 L368,996 L330,996 Z" fill="#6a80ea"/>
<path d="M333,968 L340,978 Q336,990 330,996 L328,996 Z" fill="#2a4ab8"/>
<path d="M326,994 L372,994 L391.8,998.6 Q410,1003 412.5,1015.9 L414.8,1044 L280.3,1044 L283.8,1015.9 Q287,1003 304.5,998.6 Z" fill="#6a80ea"/>
<path d="M283.8,1015.9 Q282,1030 280.3,1044 L282.2,1044 Q284,1028 286,1014 Z" fill="#30f0f8"/>
<path d="M412.5,1015.9 Q414,1030 414.8,1044 L412.9,1044 Q412,1028 410.5,1014 Z" fill="#ff70c0"/>
<path d="M316,993 L324,996 Q322,1022 332,1034 Q350,1040 368.9,1032 Q378,1020 375,996 L383,993 Q388,1015 396,1044 L300,1044 Q309,1015 316,993 Z" fill="#c4b4f2"/>
<path d="M305,1012 Q303,1018 305,1026 M392,1012 Q394,1018 392,1026" stroke="#2a3aa8" stroke-width="1.3" fill="none"/>
<path d="M327,998 Q336,1000 345,1001.5 M350,1001.5 L355,1001.5" stroke="#3848b0" stroke-width="0.9" fill="none"/>
<path d="M321.9,930 L377,930 L376.5,950 Q373,966 362,976 Q355,981.4 348.5,981.4 Q342,981.4 335,976 Q324,966 322.4,950 Z" fill="#7086ec"/>
<path d="M321.9,944 L323,955 Q326,968 334,976 Q327,965 324.5,952 Z" fill="#30f0f8"/>
<path d="M377,944 L376,955 Q372,968 363,976 Q370,965 374.5,952 Z" fill="#ff70c0"/>
<path d="M344,949.5 L353,949.5 L348.5,953 Z" fill="#3848a8"/>
<path d="M341,960 Q345,956.5 348.5,958 Q352,956.5 356,960 Q352,964.5 348.5,964 Q345,964.5 341,960 Z" fill="#3040a0"/>
<path d="M351,957.3 Q354.5,956.8 357,960 Q354.5,963.5 351.5,963.8 Q355,961 351,957.3 Z" fill="#ff60b8"/>
<path d="M345.5,968 L351.5,968" stroke="#3848a8" stroke-width="0.9"/>
<rect x="306.5" y="918" width="6" height="24" rx="2" fill="#6a58d0"/>
<rect x="306.5" y="920" width="1.2" height="20" fill="#30f0f8"/>
<rect x="385.5" y="918" width="6" height="24" rx="2" fill="#6a58d0"/>
<rect x="390.3" y="920" width="1.2" height="20" fill="#ff70c0"/>
<rect x="312.5" y="911" width="73" height="34" rx="7" fill="#cfc4f8"/>
<path d="M315,941 L383,941 L383,945 Q375,948 349,948 Q323,948 315,945 Z" fill="#9a8ee0"/>
<rect x="316.5" y="915" width="65" height="26.5" rx="4" fill="#5a64f8"/>
<path d="M316.5,919 Q316.5,915 320.5,915 L324,915 L380,941.5 L320.5,941.5 Q316.5,941.5 316.5,937.5 Z" fill="#5546c8"/>
<g fill="none" stroke="#fff" stroke-width="1.1" stroke-linejoin="miter">
<path d="M520.5,999 L530.6,993.8 L540.7,999 L540.7,1012.5 M520.5,999 L520.5,1012.5"/>
<path d="M523.5,1012.5 L523.5,1001 L530.6,1006 L537.7,1001 L537.7,1012.5"/>
<path d="M526.5,1012.5 L526.5,1006 L530.6,1009 L534.7,1006 L534.7,1012.5"/>
<path d="M524,999 L530.6,995.8 L537.2,999 L530.6,1002.6 Z"/>
<path d="M527.5,999 L530.6,997.6 L533.7,999 L530.6,1000.6 Z"/>
</g>
<text x="544.3" y="1005.4" font-size="4.6" font-weight="normal" fill="#fff" stroke="#fff" stroke-width="0.15" textLength="39.7" lengthAdjust="spacingAndGlyphs">OSSERVATORIO</text>
<text x="544.3" y="1009.8" font-size="4.6" font-weight="normal" fill="#fff" stroke="#fff" stroke-width="0.15" textLength="31.1" lengthAdjust="spacingAndGlyphs">METAVERSO</text>
<path d="M596.2,990.8 L609.6,990.8 L609.6,1017.1 L596.2,1017.1 Z" fill="#3a58c0"/>
<path d="M609.4,990.8 L624.7,990.8 Q623.8,1004 624.7,1017.1 L609.4,1017.1 Z" fill="#14a898"/>
<path d="M609.6,993.6 Q604.6,994 604.6,999.5 Q604.6,1003 607.2,1004.5 L607.2,1006.6 L609.6,1006.6 Z" fill="#14a898"/>
<path d="M609.4,993.6 Q614,994 614.6,998 L616.2,1000.4 L614.7,1001 Q614.6,1004.2 611.6,1004.4 L611.6,1006.6 L609.4,1006.6 Z" fill="#3a58c0"/>
<text x="610.4" y="1012.9" font-size="7.6" font-weight="normal" fill="#fff" stroke="#fff" stroke-width="0.3" text-anchor="middle">Ipsos</text>
<text x="631.4" y="998.7" font-size="11.6" font-weight="normal" fill="#fff" stroke="#fff" stroke-width="0.35" textLength="38.2" lengthAdjust="spacingAndGlyphs">Ipsos.it</text>
<path transform="translate(634.6,1007.3) scale(0.404)" d="M23.954 4.569c-.885.389-1.83.654-2.825.775 1.014-.611 1.794-1.574 2.163-2.723-.951.555-2.005.959-3.127 1.184-.896-.959-2.173-1.559-3.591-1.559-2.717 0-4.92 2.203-4.92 4.917 0 .39.045.765.127 1.124C7.691 8.094 4.066 6.13 1.64 3.161c-.427.722-.666 1.561-.666 2.475 0 1.71.87 3.213 2.188 4.096-.807-.026-1.566-.248-2.228-.616v.061c0 2.385 1.693 4.374 3.946 4.827-.413.111-.849.171-1.296.171-.314 0-.615-.03-.916-.086.631 1.953 2.445 3.377 4.604 3.417-1.68 1.319-3.809 2.105-6.102 2.105-.39 0-.779-.023-1.17-.067 2.189 1.394 4.768 2.209 7.557 2.209 9.054 0 13.999-7.496 13.999-13.986 0-.209 0-.42-.015-.63.961-.689 1.8-1.56 2.46-2.548l-.047-.02z" fill="#fff"/>
<path d="M651,1017 L651,1011.2 L649.6,1011.2 L649.6,1009.3 L651,1009.3 L651,1008.2 Q651,1005.1 653.8,1005.1 L655,1005.2 L655,1007 L654.3,1007 Q653.2,1007 653.2,1008.1 L653.2,1009.3 L655,1009.3 L654.7,1011.2 L653.2,1011.2 L653.2,1017 Z" fill="#fff"/>
<rect x="661" y="1010.4" width="1.9" height="6.4" fill="#fff"/><circle cx="661.95" cy="1008.4" r="1.1" fill="#fff"/>
<path d="M664.2,1016.8 L664.2,1010.4 L666.1,1010.4 L666.1,1011.3 Q666.9,1010.1 668.4,1010.1 Q670.4,1010.1 670.4,1012.6 L670.4,1016.8 L668.5,1016.8 L668.5,1013 Q668.5,1011.9 667.4,1011.9 Q666.2,1011.9 666.2,1013.2 L666.2,1016.8 Z" fill="#fff"/>
</svg></body></html>
